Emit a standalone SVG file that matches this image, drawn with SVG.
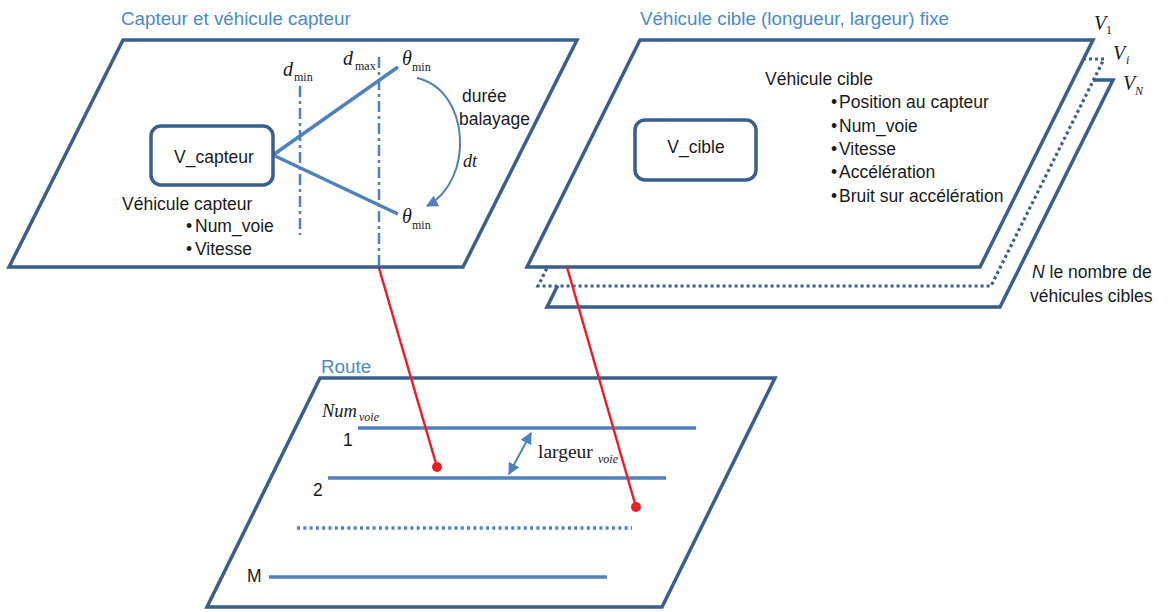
<svg xmlns="http://www.w3.org/2000/svg" width="1171" height="612" viewBox="0 0 1171 612">
<style>
.plane{fill:#fff;stroke:#3A5F8D;stroke-width:3.5;stroke-linejoin:miter}
.dotplane{fill:#fff;stroke:#3A5F8D;stroke-width:3.2;stroke-dasharray:3 3}
.box{fill:#fff;stroke:#3A5F8D;stroke-width:3.5}
.lane{stroke:#4F81BD;stroke-width:3.5;fill:none}
.dashdot{stroke:#4F81BD;stroke-width:2.5;stroke-dasharray:11 4 3 4;fill:none}
.thin{stroke:#4F81BD;stroke-width:2;fill:none}
.red{stroke:#E8202A;stroke-width:2.5;fill:none}
.title{font-family:"Liberation Sans",Arial,sans-serif;font-size:18.8px;fill:#4A8ACB}
.t{font-family:"Liberation Sans",Arial,sans-serif;font-size:17.5px;fill:#1a1a1a}
.mi{font-family:"Liberation Serif","Times New Roman",serif;font-style:italic;font-size:20px;fill:#1a1a1a}
.sub{font-family:"Liberation Serif","Times New Roman",serif;font-size:12px;fill:#1a1a1a}
.subi{font-family:"Liberation Serif","Times New Roman",serif;font-style:italic;font-size:12px;fill:#1a1a1a}
.rm{font-family:"Liberation Serif","Times New Roman",serif;font-size:19.5px;fill:#1a1a1a}
</style>
<defs>
<marker id="ah" viewBox="0 0 10 10" refX="9" refY="5" markerWidth="6" markerHeight="6" orient="auto-start-reverse" markerUnits="strokeWidth">
<path d="M0,0 L10,5 L0,10 z" fill="#4F81BD"/>
</marker>
</defs>

<g id="plan-capteur">
<polygon class="plane" points="123,40 577,40 463,267 9,267"/>
<text class="title" x="121" y="25">Capteur et véhicule capteur</text>
<line class="dashdot" x1="300" y1="86" x2="300" y2="235"/>
<line class="dashdot" x1="379" y1="57" x2="379" y2="268"/>
<line class="lane" x1="273" y1="155" x2="398" y2="67"/>
<line class="lane" x1="273" y1="155" x2="398" y2="214"/>
<path class="thin" d="M417,78 C470,90 475,180 427,206" marker-end="url(#ah)"/>
<text class="mi" x="283" y="76">d</text><text class="sub" x="294" y="81">min</text>
<text class="mi" x="343" y="65">d</text><text class="sub" x="355" y="70">max</text>
<text class="mi" x="402" y="65">θ</text><text class="sub" x="412" y="71">min</text>
<text class="mi" x="402" y="223">θ</text><text class="sub" x="412" y="229">min</text>
<text class="t" x="462" y="102">durée</text>
<text class="t" x="459" y="125">balayage</text>
<text class="mi" x="463" y="167" style="font-size:18px">dt</text>
<text class="t" x="122" y="210">Véhicule capteur</text>
<text class="t" x="186" y="232">•<tspan x="195">Num_voie</tspan></text>
<text class="t" x="186" y="255">•<tspan x="195">Vitesse</tspan></text>
</g>

<g id="V_capteur">
<rect class="box" x="151" y="126" width="122" height="59" rx="10"/>
<text class="t" x="214" y="163" text-anchor="middle">V_capteur</text>
</g>

<g id="plan-cible">
<polygon class="plane" points="660,80 1113,80 1000,307 547,307"/>
<polygon class="dotplane" points="651,59 1104,59 991,286 538,286"/>
<polygon class="plane" points="640,40 1093,40 980,267 527,267"/>
<text class="title" x="640" y="25">Véhicule cible (longueur, largeur) fixe</text>
<text class="mi" x="1094" y="30">V</text><text class="sub" x="1106" y="34">1</text>
<text class="mi" x="1113" y="60">V</text><text class="subi" x="1126" y="64">i</text>
<text class="mi" x="1123" y="90">V</text><text class="subi" x="1135" y="95">N</text>
<text class="t" x="765" y="85">Véhicule cible</text>
<text class="t" x="831" y="108">•<tspan x="839">Position au capteur</tspan></text>
<text class="t" x="831" y="132">•<tspan x="839">Num_voie</tspan></text>
<text class="t" x="831" y="155">•<tspan x="839">Vitesse</tspan></text>
<text class="t" x="831" y="178">•<tspan x="839">Accélération</tspan></text>
<text class="t" x="831" y="202">•<tspan x="839">Bruit sur accélération</tspan></text>
<text class="t" x="1032" y="278"><tspan font-style="italic">N</tspan> le nombre de</text>
<text class="t" x="1030" y="302">véhicules cibles</text>
</g>

<g id="V_cible">
<rect class="box" x="635" y="120" width="121" height="60" rx="10"/>
<text class="t" x="696" y="153" text-anchor="middle">V_cible</text>
</g>

<g id="route">
<polygon class="plane" points="320,378 775,378 662,607 207,607"/>
<text class="title" x="321" y="373">Route</text>
<text class="mi" x="322" y="417" style="font-size:18.5px">Num</text><text class="subi" x="359" y="421">voie</text>
<line class="lane" x1="358" y1="428" x2="696" y2="428"/>
<line class="lane" x1="328" y1="478" x2="666" y2="478"/>
<line class="lane" x1="297" y1="528" x2="632" y2="528" stroke-dasharray="3 3.3"/>
<line class="lane" x1="269" y1="577" x2="607" y2="577"/>
<text class="t" x="343" y="446">1</text>
<text class="t" x="313" y="496">2</text>
<text class="t" x="247" y="582">M</text>
<line class="thin" x1="531" y1="433" x2="509" y2="474" marker-start="url(#ah)" marker-end="url(#ah)"/>
<text class="rm" x="538" y="458">largeur</text><text class="subi" x="598" y="463">voie</text>
</g>

<g id="connectors">
<line class="red" x1="379" y1="268" x2="437" y2="467"/>
<circle cx="437" cy="467" r="5" fill="#E8202A"/>
<line class="red" x1="567" y1="267" x2="636" y2="507"/>
<circle cx="636" cy="507" r="5" fill="#E8202A"/>
</g>
</svg>
